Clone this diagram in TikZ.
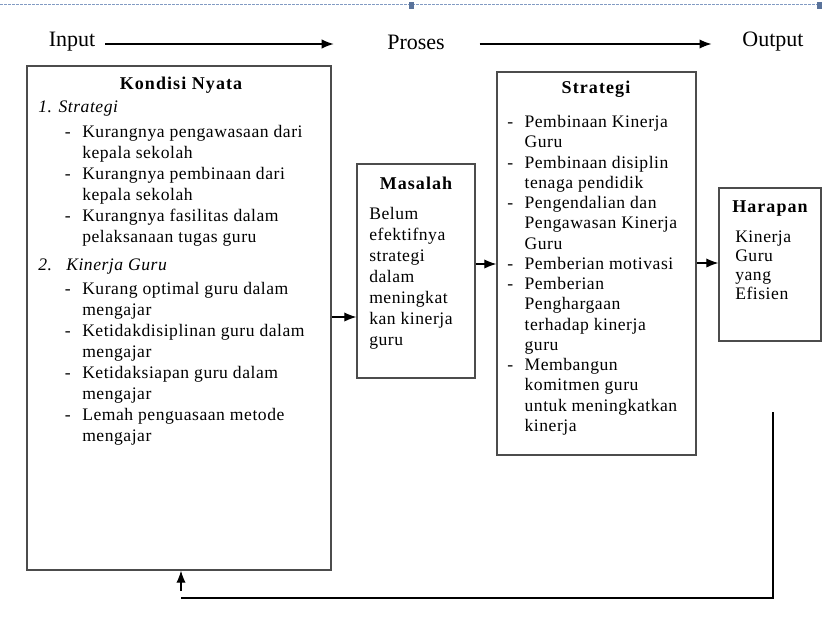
\documentclass[tikz,border=0pt]{standalone}
\usepackage{fontspec}
\setmainfont{Liberation Serif}
\newfontfamily\boxfont[LetterSpace=3]{Liberation Serif}
\newfontfamily\ttlfont[LetterSpace=6]{Liberation Serif}
\usetikzlibrary{arrows.meta}

\newcommand{\itm}{\makebox[13pt][l]{-}}
\newcommand{\cont}{\hspace*{13pt}}

\definecolor{framecol}{RGB}{130,155,195}
\definecolor{handlecol}{RGB}{90,115,155}

\tikzset{
  box/.style={rectangle, draw=black!70, line width=1pt, inner sep=0pt},
  ttl/.style={font=\ttlfont\fontsize{13.5}{15.75}\selectfont\bfseries, inner sep=0pt},
  body/.style={font=\boxfont\fontsize{13.2}{15.75}\selectfont, align=left, anchor=north west, inner sep=0pt},
  head/.style={font=\fontsize{16.5}{19}\selectfont, inner sep=0pt},
  arr/.style={-{Latex[length=9pt,width=7pt]}, line width=0.9pt}
}

\begin{document}
\begin{tikzpicture}[x=0.75pt, y=-0.75pt]
  \useasboundingbox (0,0) rectangle (822,632);

  % selection frame at the top
  \draw[color=framecol, dash pattern=on 2pt off 1pt, line width=0.6pt] (0,4) -- (822,4);
  \fill[handlecol] (409,2) rectangle (414,9);
  \fill[handlecol] (817,2) rectangle (822,9);

  % Input - Proses - Output
  \node[head] (input) at (72,42) {Input};
  \node[head] (proses) at (416,42) {Proses};
  \node[head] (output) at (773,42) {Output};
  \draw[arr] ([xshift=7.5pt,yshift=-1.5pt]input.east) -- ([xshift=-40pt,yshift=-1.5pt]proses.west);
  \draw[arr] ([xshift=26pt,yshift=-1.5pt]proses.east) -- ([xshift=-23pt,yshift=-1.5pt]output.west);

  % Boxes
  \node[box, minimum width=228pt, minimum height=378pt] (kondisi) at (179,318) {};
  \node[box, minimum width=88.5pt, minimum height=160.5pt] (masalah) at (416,271) {};
  \node[box, minimum width=149.25pt, minimum height=287.25pt] (strategi) at (596.5,263.5) {};
  \node[box, minimum width=76.5pt, minimum height=114.75pt] (harapan) at (770,264.5) {};

  % Kondisi Nyata
  \node[ttl] (kondisi-ttl) at (181,85) {Kondisi Nyata};
  \node[body] (kondisi-txt) at (38,101) {%
    \textit{1. Strategi}\\[3pt]
    \hspace*{20pt}\itm Kurangnya pengawasaan dari\\
    \hspace*{20pt}\cont kepala sekolah\\
    \hspace*{20pt}\itm Kurangnya pembinaan dari\\
    \hspace*{20pt}\cont kepala sekolah\\
    \hspace*{20pt}\itm Kurangnya fasilitas dalam\\
    \hspace*{20pt}\cont pelaksanaan tugas guru\\[5pt]
    \makebox[21pt][l]{\textit{2.}}\textit{Kinerja Guru}\\[2pt]
    \hspace*{20pt}\itm Kurang optimal guru dalam\\
    \hspace*{20pt}\cont mengajar\\
    \hspace*{20pt}\itm Ketidakdisiplinan guru dalam\\
    \hspace*{20pt}\cont mengajar\\
    \hspace*{20pt}\itm Ketidaksiapan guru dalam\\
    \hspace*{20pt}\cont mengajar\\
    \hspace*{20pt}\itm Lemah penguasaan metode\\
    \hspace*{20pt}\cont mengajar};

  % Masalah
  \node[ttl] (masalah-ttl) at (416,183) {Masalah};
  \node[body] (masalah-txt) at (369,207) {%
    Belum\\efektifnya\\strategi\\dalam\\meningkat\\kan kinerja\\guru};

  % Strategi
  \node[ttl] (strategi-ttl) at (596,89) {Strategi};
  \node[body, font=\boxfont\fontsize{13.2}{15.2}\selectfont] (strategi-txt) at (507,115) {%
    \itm Pembinaan Kinerja\\
    \cont Guru\\
    \itm Pembinaan disiplin\\
    \cont tenaga pendidik\\
    \itm Pengendalian dan\\
    \cont Pengawasan Kinerja\\
    \cont Guru\\
    \itm Pemberian motivasi\\
    \itm Pemberian\\
    \cont Penghargaan\\
    \cont terhadap kinerja\\
    \cont guru\\
    \itm Membangun\\
    \cont komitmen guru\\
    \cont untuk meningkatkan\\
    \cont kinerja};

  % Harapan
  \node[ttl] (harapan-ttl) at (770,209) {Harapan};
  \node[body, font=\boxfont\fontsize{13.2}{14.25}\selectfont] (harapan-txt) at (735,231) {%
    Kinerja\\Guru\\yang\\Efisien};

  % Connectors
  \draw[arr] (kondisi.east |- 0,317) -- (masalah.west |- 0,317);
  \draw[arr] (masalah.east |- 0,264) -- (strategi.west |- 0,264);
  \draw[arr] (strategi.east |- 0,263) -- (harapan.west |- 0,263);

  % feedback
  \coordinate (fb-top) at (773,412);
  \coordinate (fb-left) at (181,598);
  \coordinate (fb-start) at (181,591);
  \draw[line width=0.9pt] (fb-top) |- (fb-left);
  \draw[arr] (fb-start) -- (fb-start |- kondisi.south);
\end{tikzpicture}
\end{document}
